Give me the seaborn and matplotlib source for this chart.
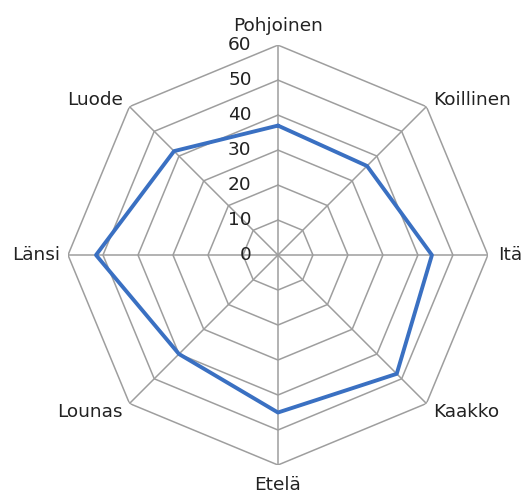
import numpy as np
import pandas as pd
import matplotlib
matplotlib.use("Agg")
import matplotlib.pyplot as plt
import seaborn as sns

# compass directions, clockwise from north
directions = ["Pohjoinen", "Koillinen", "Itä", "Kaakko", "Etelä", "Lounas", "Länsi", "Luode"]
values = [37, 36, 44, 48, 45, 40, 52, 42]
ring_levels = [0, 10, 20, 30, 40, 50, 60]

sns.set_style("white")
plt.rcParams['font.family'] = ['DejaVu Sans']

GRID = "#9e9e9e"
LINE = "#3a70c2"
TXT = "#222222"
FS = 13.3

fig = plt.figure(figsize=(5.21, 4.94), dpi=100)
ax = fig.add_axes([0.1305, 0.0587, 0.806, 0.850], projection="polar")
ax.set_theta_offset(np.pi / 2)
ax.set_theta_direction(-1)
ax.set_ylim(0, 60)
ax.grid(False)
ax.spines["polar"].set_visible(False)
ax.set_xticks([])
ax.set_yticks([])

n = len(directions)
theta = np.linspace(0, 2 * np.pi, n, endpoint=False)
theta_closed = np.append(theta, 2 * np.pi)

# polygon rings
for r in ring_levels[1:]:
    ax.plot(theta_closed, [r] * (n + 1), color=GRID, lw=1.1, zorder=1)
# spokes
for t in theta:
    ax.plot([t, t], [0, ring_levels[-1]], color=GRID, lw=1.1, zorder=1)

# data series (closed polygon)
df = pd.DataFrame({"theta": theta_closed, "value": values + [values[0]]})
sns.lineplot(data=df, x="theta", y="value", sort=False, estimator=None,
             color=LINE, lw=2.8, ax=ax, zorder=3)
ax.set_xlabel("")
ax.set_ylabel("")

# radial tick labels
for r in ring_levels:
    ax.annotate(str(r), xy=(0, r), xytext=(-19, 0), textcoords="offset points",
                ha="right", va="center", fontsize=FS, color=TXT)

# direction labels
label_style = {
    "Pohjoinen": dict(ha="center", va="bottom", off=(0, 7)),
    "Koillinen": dict(ha="left", va="center", off=(5, 5)),
    "Itä": dict(ha="left", va="center", off=(7, 0)),
    "Kaakko": dict(ha="left", va="center", off=(5, -6)),
    "Etelä": dict(ha="center", va="center", off=(0, -14.5)),
    "Lounas": dict(ha="right", va="center", off=(-5, -6)),
    "Länsi": dict(ha="right", va="center", off=(-6, 0)),
    "Luode": dict(ha="right", va="center", off=(-5, 5)),
}
for t, name in zip(theta, directions):
    st = label_style[name]
    ax.annotate(name, xy=(t, ring_levels[-1]), xytext=st["off"],
                textcoords="offset points", ha=st["ha"], va=st["va"],
                fontsize=FS, color=TXT, annotation_clip=False)

fig.savefig("out.png", dpi=100)
